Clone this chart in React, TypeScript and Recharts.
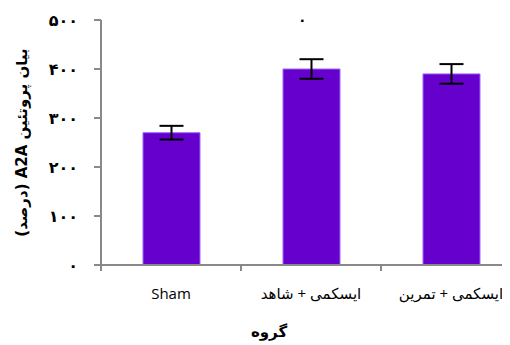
import React from "react";
import {BarChart, Bar, XAxis, YAxis, ErrorBar} from "recharts";

const groups = ["Sham", "ایسکمی + شاهد", "ایسکمی + تمرین"];
const means = [270, 400, 390];
const errors = [14, 20, 20];
const yTicks = [0, 100, 200, 300, 400, 500];
const yTickLabels = ["۰", "۱۰۰", "۲۰۰", "۳۰۰", "۴۰۰", "۵۰۰"];
// group boundaries (tick marks) and group centres (labels) on the x axis
const xTicks = [0, 0.5, 1, 1.5, 2, 2.5, 3];

const data = groups.map((name, i) => ({pos: i + 0.5, name, value: means[i], err: errors[i]}));

const GRAY = "#898989";

const GroupTick = (props: any) => {
  const {x, y, payload} = props;
  const v = payload.value as number;
  if (Number.isInteger(v)) {
    return <line x1={x} x2={x} y1={y} y2={y + 6} stroke={GRAY} strokeWidth={2} />;
  }
  return (
    <text
      x={x}
      y={y + 34}
      textAnchor="middle"
      fill="#000"
      fontSize={15}
      fontFamily="Open Sans, DejaVu Sans, sans-serif"
    >
      {groups[Math.floor(v)]}
    </text>
  );
};

const App = () => {
  return (
    <div style={{position: "relative", width: 502, height: 337, overflow: "hidden"}}>
      <BarChart
        width={520}
        height={337}
        data={data}
        margin={{top: 12, right: 7, bottom: 0, left: 0}}
      >
        <XAxis
          dataKey="pos"
          type="number"
          domain={[0, 3]}
          ticks={xTicks}
          interval={0}
          tickLine={false}
          tickSize={0}
          tickMargin={0}
          axisLine={{stroke: GRAY, strokeWidth: 2}}
          height={80}
          tick={<GroupTick />}
          label={{
            value: "گروه",
            position: "insideTop",
            dy: 56,
            dx: -42,
            fill: "#000",
            fontSize: 15,
            fontWeight: "bold",
            fontFamily: "DejaVu Sans, sans-serif",
          }}
        />
        <YAxis
          domain={[0, 500]}
          ticks={yTicks}
          interval={0}
          width={93}
          tickSize={7}
          axisLine={{stroke: GRAY, strokeWidth: 2}}
          tickLine={{stroke: GRAY, strokeWidth: 2}}
          tickFormatter={(v: number) => yTickLabels[yTicks.indexOf(v)]}
          tick={{fill: "#000", fontSize: 16, fontWeight: "bold", dx: -14, fontFamily: "DejaVu Sans, sans-serif"}}
          label={{
            value: "بیان پروتئین A2A (درصد)",
            angle: -90,
            position: "insideLeft",
            dx: 9,
            dy: 0,
            style: {textAnchor: "middle", direction: "rtl"},
            fill: "#000",
            fontSize: 15,
            fontWeight: "bold",
            fontFamily: "DejaVu Sans, sans-serif",
          }}
        />
        <Bar
          dataKey="value"
          fill="#6600CC"
          stroke="#A066FF"
          strokeWidth={1}
          barSize={57}
          isAnimationActive={false}
        >
          <ErrorBar dataKey="err" width={12} stroke="#000" strokeWidth={2} />
        </Bar>
      </BarChart>
      <div
        style={{
          position: "absolute",
          left: 290,
          top: 4,
          fontSize: 14,
          fontWeight: "bold",
          fontFamily: "DejaVu Sans, sans-serif",
        }}
      >
        ۰
      </div>
    </div>
  );
};

export default App;
